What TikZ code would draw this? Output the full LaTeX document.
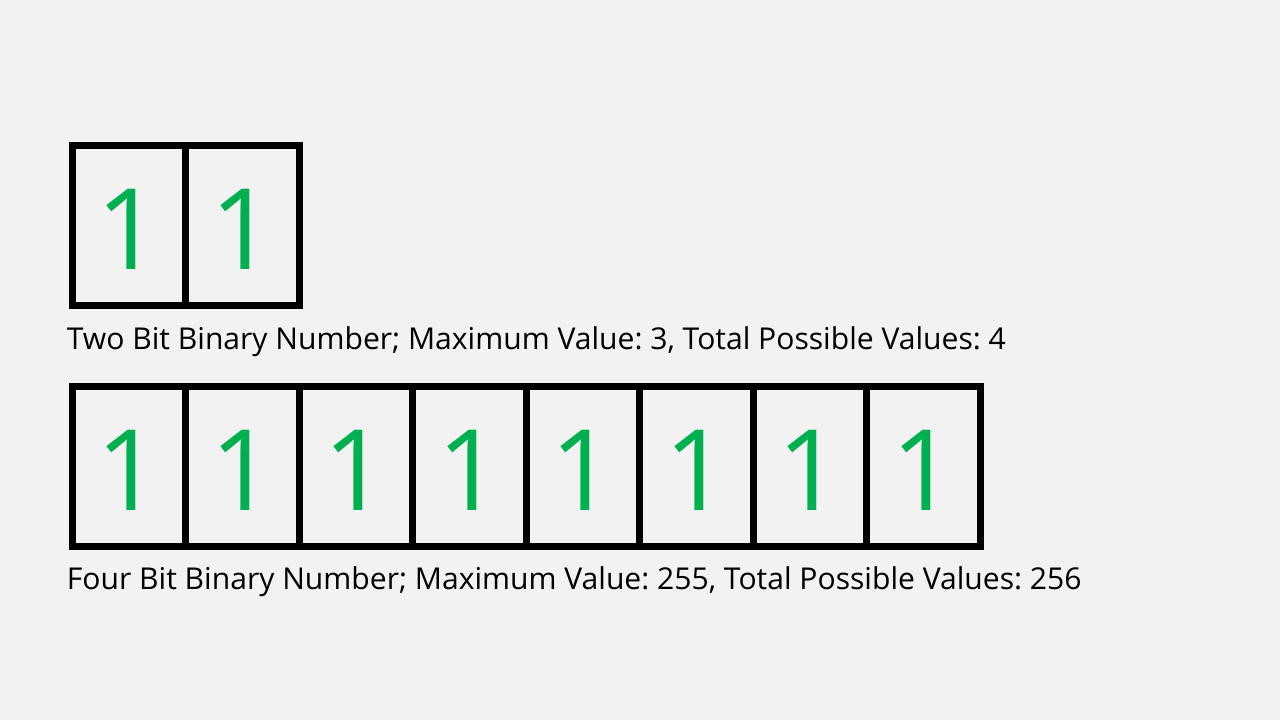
\documentclass[tikz,border=0pt]{standalone}
\usepackage{fontspec}
\setmainfont{Open Sans}
\usetikzlibrary{positioning}
\definecolor{bitgreen}{HTML}{00B050}
\definecolor{slidebg}{HTML}{F2F2F2}
\frenchspacing
\begin{document}
\begin{tikzpicture}[
       bit_style/.style={draw, black, line width=0.07cm, outer sep=0pt, inner sep=0pt,
                         minimum width=1.135cm, minimum height=1.6cm,
                         text height=0.88cm, text depth=0pt,
                         text=bitgreen, font=\fontsize{32}{38}\selectfont}, % 位格样式
       caption_style/.style={inner sep=0pt, anchor=base west,
                             font=\fontsize{8.56}{10}\selectfont} % 说明文字样式
   ]

   % 背景
   \fill[slidebg] (0,0) rectangle (12.8,7.2);
   \useasboundingbox (0,0) rectangle (12.8,7.2);

   % 1. 两位二进制数
   \node[bit_style] (t1) at (1.29,4.94) {1};
   \node[bit_style, anchor=west] (t2) at (t1.east) {1};
   \node[caption_style] (tcap) at ([xshift=-0.06cm, yshift=-0.44cm]t1.south west)
       {Two Bit Binary Number; Maximum Value: 3, Total Possible Values: 4};

   % 2. 八位二进制数
   \node[bit_style] (b1) at (1.29,2.535) {1};
   \foreach \i [remember=\i as \j (initially 1)] in {2,...,8}
       \node[bit_style, anchor=west] (b\i) at (b\j.east) {1};
   \node[caption_style] (bcap) at ([xshift=-0.06cm, yshift=-0.43cm]b1.south west)
       {Four Bit Binary Number; Maximum Value: 255, Total Possible Values: 256};

   \end{tikzpicture}
\end{document}
